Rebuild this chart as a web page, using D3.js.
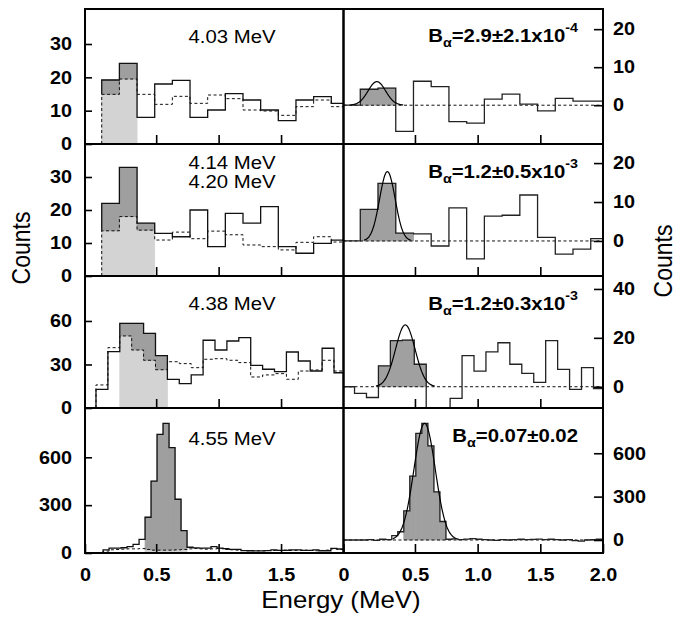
<!DOCTYPE html>
<html>
<head>
<meta charset="utf-8">
<script src="https://cdn.jsdelivr.net/npm/d3@7"></script>
<style>
  body { margin: 0; background: #fff; }
  text { font-family: "Liberation Sans", Arial, sans-serif; }
</style>
</head>
<body>
<svg id="chart" width="678" height="618"></svg>
<script>
// alpha peaks, one row per state
const peakLabels = [["4.03 MeV"], ["4.14 MeV", "4.20 MeV"], ["4.38 MeV"], ["4.55 MeV"]];
const branchText = ["=2.9\u00b12.1x10", "=1.2\u00b10.5x10", "=1.2\u00b10.3x10", "=0.07\u00b10.02"];
const branchExp = ["-4", "-3", "-3", ""];

// binning (MeV)
const binStart = [0.064, 0.064, 0.018, 0.075];
const binWidth = [0.1414, 0.1414, 0.0953, 0.048];
const selBins = [[0, 1], [0, 2], [2, 5], [7, 13]];

// left: total counts (solid) and background (dashed)
const row1Total = [19.2, 24.2, 8.0, 18.0, 19.1, 8.0, 10.2, 15.1, 13.2, 10.2, 7.0, 13.2, 14.2, 12.2];
const row1Bkg   = [14.9, 19.5, 14.9, 11.9, 14.3, 12.2, 14.7, 13.6, 10.2, 9.9, 8.6, 11.2, 13.2, 11.2];
const row2Total = [22.0, 32.9, 16.0, 12.9, 11.9, 20.0, 8.9, 19.0, 16.0, 21.0, 8.9, 6.9, 9.9, 10.9];
const row2Bkg   = [13.7, 18.0, 13.9, 10.9, 13.3, 11.3, 13.6, 12.5, 9.4, 8.9, 7.9, 10.2, 11.9, 10.3];
const row3Total = [12.9, 38.9, 58.4, 58.4, 51.5, 36.1, 19.8, 16.8, 22.8, 46.7, 40.0, 46.2, 48.5, 29.4, 26.7, 25.1, 38.6, 32.4, 25.5, 41.2, 24.3];
const row3Bkg   = [15.9, 41.6, 49.7, 40.0, 32.9, 26.4, 31.9, 30.6, 27.8, 33.6, 34.0, 32.9, 31.3, 21.4, 22.8, 23.7, 19.8, 25.5, 26.2, 32.9, 25.5];
const row4Total = [19, 30, 30, 33, 40, 54, 86, 224, 451, 744, 813, 660, 337, 140, 36, 32, 30, 30, 40, 30, 28, 23, 23, 15, 14, 13, 13, 15, 19, 17, 17, 19, 19, 17, 17, 19, 14, 14, 29, 25];
const row4Bkg   = [12, 20, 22, 24, 26, 26, 28, 22, 18, 18, 18, 18, 20, 22, 26, 28, 26, 24, 26, 28, 22, 20, 18, 16, 14, 14, 14, 16, 16, 16, 18, 16, 16, 18, 16, 14, 16, 18, 26, 22];

// right: background-subtracted counts
const row1Net = [4.2, 4.5, -6.9, 6.3, 4.9, -4.3, -4.7, 1.6, 2.9, 0.3, -1.5, 1.8, 1.1, 1.1];
const row2Net = [8.1, 14.8, 2.0, 1.8, -1.3, 8.5, -4.6, 6.4, 6.6, 11.8, 0.9, -3.4, -2.1, 0.6];
const row3Net = [-2.7, -4.4, 8.5, 18.9, 19.1, 9.2, -12.1, -13.8, -4.8, 12.7, 6.4, 14.3, 18.0, 9.2, 5.5, 1.8, 18.9, 7.1, -1.1, 7.8, -0.8];
const row4Net = [0, 2, -3, 5, 3, 30, 57, 202, 442, 737, 807, 651, 333, 128, 5, 8, 3, 6, 10, 5, 3, 0, -3, 2, 0, 3, 5, 2, 4, 6, 3, 5, 2, 0, 3, -5, -8, 0, 3, 5];

// gaussian fits (right panels)
const fitCenter = [0.196, 0.28, 0.423, 0.577];
const fitSigma = [0.07, 0.062, 0.078, 0.085];
const fitAmp = [6.2, 17.8, 25.3, 807];

// axes
const energyDomain = [-0.07, 2.0];
const leftYDomain = [[0, 40.5], [0, 40], [0, 91], [0, 909]];
const rightYDomain = [[-10.2, 25.3], [-9, 24.9], [-8.7, 45.3], [-90, 913]];
const leftYTicks = [[0, 10, 20, 30], [0, 10, 20, 30], [0, 30, 60], [0, 300, 600]];
const rightYTicks = [[0, 10, 20], [0, 10, 20], [0, 20, 40], [0, 300, 600]];
const energyTicks = [0.5, 1.0, 1.5];

const totals = [row1Total, row2Total, row3Total, row4Total];
const bkgs = [row1Bkg, row2Bkg, row3Bkg, row4Bkg];
const nets = [row1Net, row2Net, row3Net, row4Net];

const SX = 1.1; // the original figure is a bit wider than tall
const rowTop = [9, 144, 276, 408], rowBottom = [144, 276, 408, 553];
const leftX = [85, 343.5], rightX = [343.5, 603];

const svg = d3.select("#chart");
const defs = svg.append("defs");

function widen(sel) {
  sel.each(function () {
    const t = d3.select(this);
    const x = +t.attr("x") || 0;
    t.attr("x", x / SX).attr("transform", `scale(${SX},1)`);
  });
}

function addText(x, y, str, size, weight, anchor) {
  return svg.append("text")
    .attr("transform", `translate(${x},${y}) scale(${SX},1)`)
    .attr("text-anchor", anchor || "middle")
    .attr("font-size", size)
    .attr("font-weight", weight || "normal")
    .attr("fill", "#000")
    .text(str);
}

for (let r = 0; r < 4; r++) {
  const xL = d3.scaleLinear().domain(energyDomain).range(leftX);
  const xR = d3.scaleLinear().domain(energyDomain).range(rightX);
  const yL = d3.scaleLinear().domain(leftYDomain[r]).range([rowBottom[r], rowTop[r]]);
  const yR = d3.scaleLinear().domain(rightYDomain[r]).range([rowBottom[r], rowTop[r]]);
  const edge = i => binStart[r] + i * binWidth[r];
  const tot = totals[r], bkg = bkgs[r], net = nets[r];
  const sel = d3.range(selBins[r][0], selBins[r][1] + 1);

  defs.append("clipPath").attr("id", "cl" + r).append("rect")
    .attr("x", leftX[0]).attr("y", rowTop[r])
    .attr("width", leftX[1] - leftX[0]).attr("height", rowBottom[r] - rowTop[r]);
  defs.append("clipPath").attr("id", "cr" + r).append("rect")
    .attr("x", rightX[0]).attr("y", rowTop[r])
    .attr("width", rightX[1] - rightX[0]).attr("height", rowBottom[r] - rowTop[r]);

  function steps(vals, startVal, lead) {
    const pts = [];
    if (lead !== undefined) pts.push([energyDomain[0], lead]);
    pts.push([edge(0), startVal]);
    vals.forEach((v, i) => { pts.push([edge(i), v]); pts.push([edge(i + 1), v]); });
    return pts;
  }

  // ---- left panel
  const gL = svg.append("g").attr("clip-path", `url(#cl${r})`);
  const lineL = d3.line().x(d => xL(d[0])).y(d => yL(d[1]));

  gL.selectAll("rect.light").data(sel).join("rect").attr("class", "light")
    .attr("x", i => xL(edge(i)))
    .attr("width", i => xL(edge(i + 1)) - xL(edge(i)))
    .attr("y", i => yL(bkg[i]))
    .attr("height", i => yL(0) - yL(bkg[i]))
    .attr("fill", "#d3d3d3").attr("stroke", "#d3d3d3").attr("stroke-width", 0.8);
  gL.selectAll("rect.dark").data(sel.filter(i => tot[i] > bkg[i])).join("rect").attr("class", "dark")
    .attr("x", i => xL(edge(i)))
    .attr("width", i => xL(edge(i + 1)) - xL(edge(i)))
    .attr("y", i => yL(tot[i]))
    .attr("height", i => yL(bkg[i]) - yL(tot[i]))
    .attr("fill", "#9f9f9f").attr("stroke", "#9f9f9f").attr("stroke-width", 0.8);

  gL.append("path").attr("d", lineL(steps(bkg, 0)))
    .attr("fill", "none").attr("stroke", "#111").attr("stroke-width", 1)
    .attr("stroke-dasharray", "3,2.5");
  gL.append("path").attr("d", lineL(steps(tot, selBins[r][0] === 0 ? bkg[0] : 0)))
    .attr("fill", "none").attr("stroke", "#111").attr("stroke-width", 1.3);

  // ---- right panel
  const gR = svg.append("g").attr("clip-path", `url(#cr${r})`);
  const lineR = d3.line().x(d => xR(d[0])).y(d => yR(d[1]));

  gR.selectAll("rect.net").data(sel).join("rect").attr("class", "net")
    .attr("x", i => xR(edge(i)))
    .attr("width", i => xR(edge(i + 1)) - xR(edge(i)))
    .attr("y", i => Math.min(yR(net[i]), yR(0)))
    .attr("height", i => Math.abs(yR(0) - yR(net[i])))
    .attr("fill", "#a0a0a0").attr("stroke", "#a0a0a0").attr("stroke-width", 0.8);

  gR.append("path").attr("d", lineR([[energyDomain[0], 0], [energyDomain[1], 0]]))
    .attr("fill", "none").attr("stroke", "#111").attr("stroke-width", 1)
    .attr("stroke-dasharray", "3,2.5");
  gR.append("path").attr("d", lineR(steps(net, 0, 0)))
    .attr("fill", "none").attr("stroke", "#222").attr("stroke-width", 1.3);

  const fit = d3.range(0, 121).map(k => {
    const e = fitCenter[r] + (k / 60 - 1) * 3 * fitSigma[r];
    return [e, fitAmp[r] * Math.exp(-0.5 * Math.pow((e - fitCenter[r]) / fitSigma[r], 2))];
  });
  gR.append("path").attr("d", d3.line().curve(d3.curveBasis).x(d => xR(d[0])).y(d => yR(d[1]))(fit))
    .attr("fill", "none").attr("stroke", "#000").attr("stroke-width", 1.2);

  // ---- axes
  const last = r === 3;
  const axL = svg.append("g").attr("transform", `translate(${leftX[0]},0)`)
    .call(d3.axisLeft(yL).tickValues(leftYTicks[r]).tickSize(-7).tickPadding(13).tickFormat(d3.format("d")));
  const axR = svg.append("g").attr("transform", `translate(${rightX[1]},0)`)
    .call(d3.axisRight(yR).tickValues(rightYTicks[r]).tickSize(-9).tickPadding(10).tickFormat(d3.format("d")));
  const bL = svg.append("g").attr("transform", `translate(0,${rowBottom[r]})`)
    .call(d3.axisBottom(xL)
      .tickValues(last ? [energyDomain[0]].concat(energyTicks) : energyTicks)
      .tickSize(-9).tickPadding(15)
      .tickFormat(d => last ? (d < 0 ? "0" : d3.format(".1f")(d)) : ""));
  const bR = svg.append("g").attr("transform", `translate(0,${rowBottom[r]})`)
    .call(d3.axisBottom(xR)
      .tickValues(last ? [energyDomain[0]].concat(energyTicks, [energyDomain[1]]) : energyTicks)
      .tickSize(-9).tickPadding(15)
      .tickFormat(d => last ? (d < 0 ? "0" : d3.format(".1f")(d)) : ""));

  [axL, axR, bL, bR].forEach(a => {
    a.select(".domain").remove();
    a.selectAll(".tick line").attr("stroke", "#000").attr("stroke-width", 1.6);
    a.selectAll(".tick text").attr("font-size", 18).attr("font-weight", "bold")
      .attr("fill", "#000").attr("font-family", "Liberation Sans, Arial, sans-serif").call(widen);
  });

  // ---- panel frames
  [leftX, rightX].forEach(xr => {
    svg.append("rect").attr("x", xr[0]).attr("y", rowTop[r])
      .attr("width", xr[1] - xr[0]).attr("height", rowBottom[r] - rowTop[r])
      .attr("fill", "none").attr("stroke", "#000").attr("stroke-width", 2);
  });
}

// ---- annotations
const leftBase = [[43], [169, 188], [310], [445]];
peakLabels.forEach((lines, r) => {
  lines.forEach((s, j) => addText(232, leftBase[r][j], s, 18.5));
});

const rightBase = [42, 178, 310, 442];
branchText.forEach((s, r) => {
  const t = svg.append("text")
    .attr("transform", `translate(578,${rightBase[r]}) scale(${SX},1)`)
    .attr("text-anchor", "end").attr("font-size", 18.5).attr("font-weight", "bold");
  t.append("tspan").text("B");
  t.append("tspan").attr("font-size", 13).attr("dy", 5).text("\u03b1");
  t.append("tspan").attr("dy", -5).text(s);
  if (branchExp[r]) t.append("tspan").attr("font-size", 13).attr("dy", -10).text(branchExp[r]);
});

// axis titles
addText(341, 608, "Energy (MeV)", 23.5);
svg.append("text")
  .attr("transform", `translate(30,248) scale(${SX},1) rotate(-90)`)
  .attr("text-anchor", "middle").attr("font-size", 23).text("Counts");
svg.append("text")
  .attr("transform", `translate(672,261) scale(${SX},1) rotate(-90)`)
  .attr("text-anchor", "middle").attr("font-size", 23).text("Counts");
</script>
</body>
</html>
